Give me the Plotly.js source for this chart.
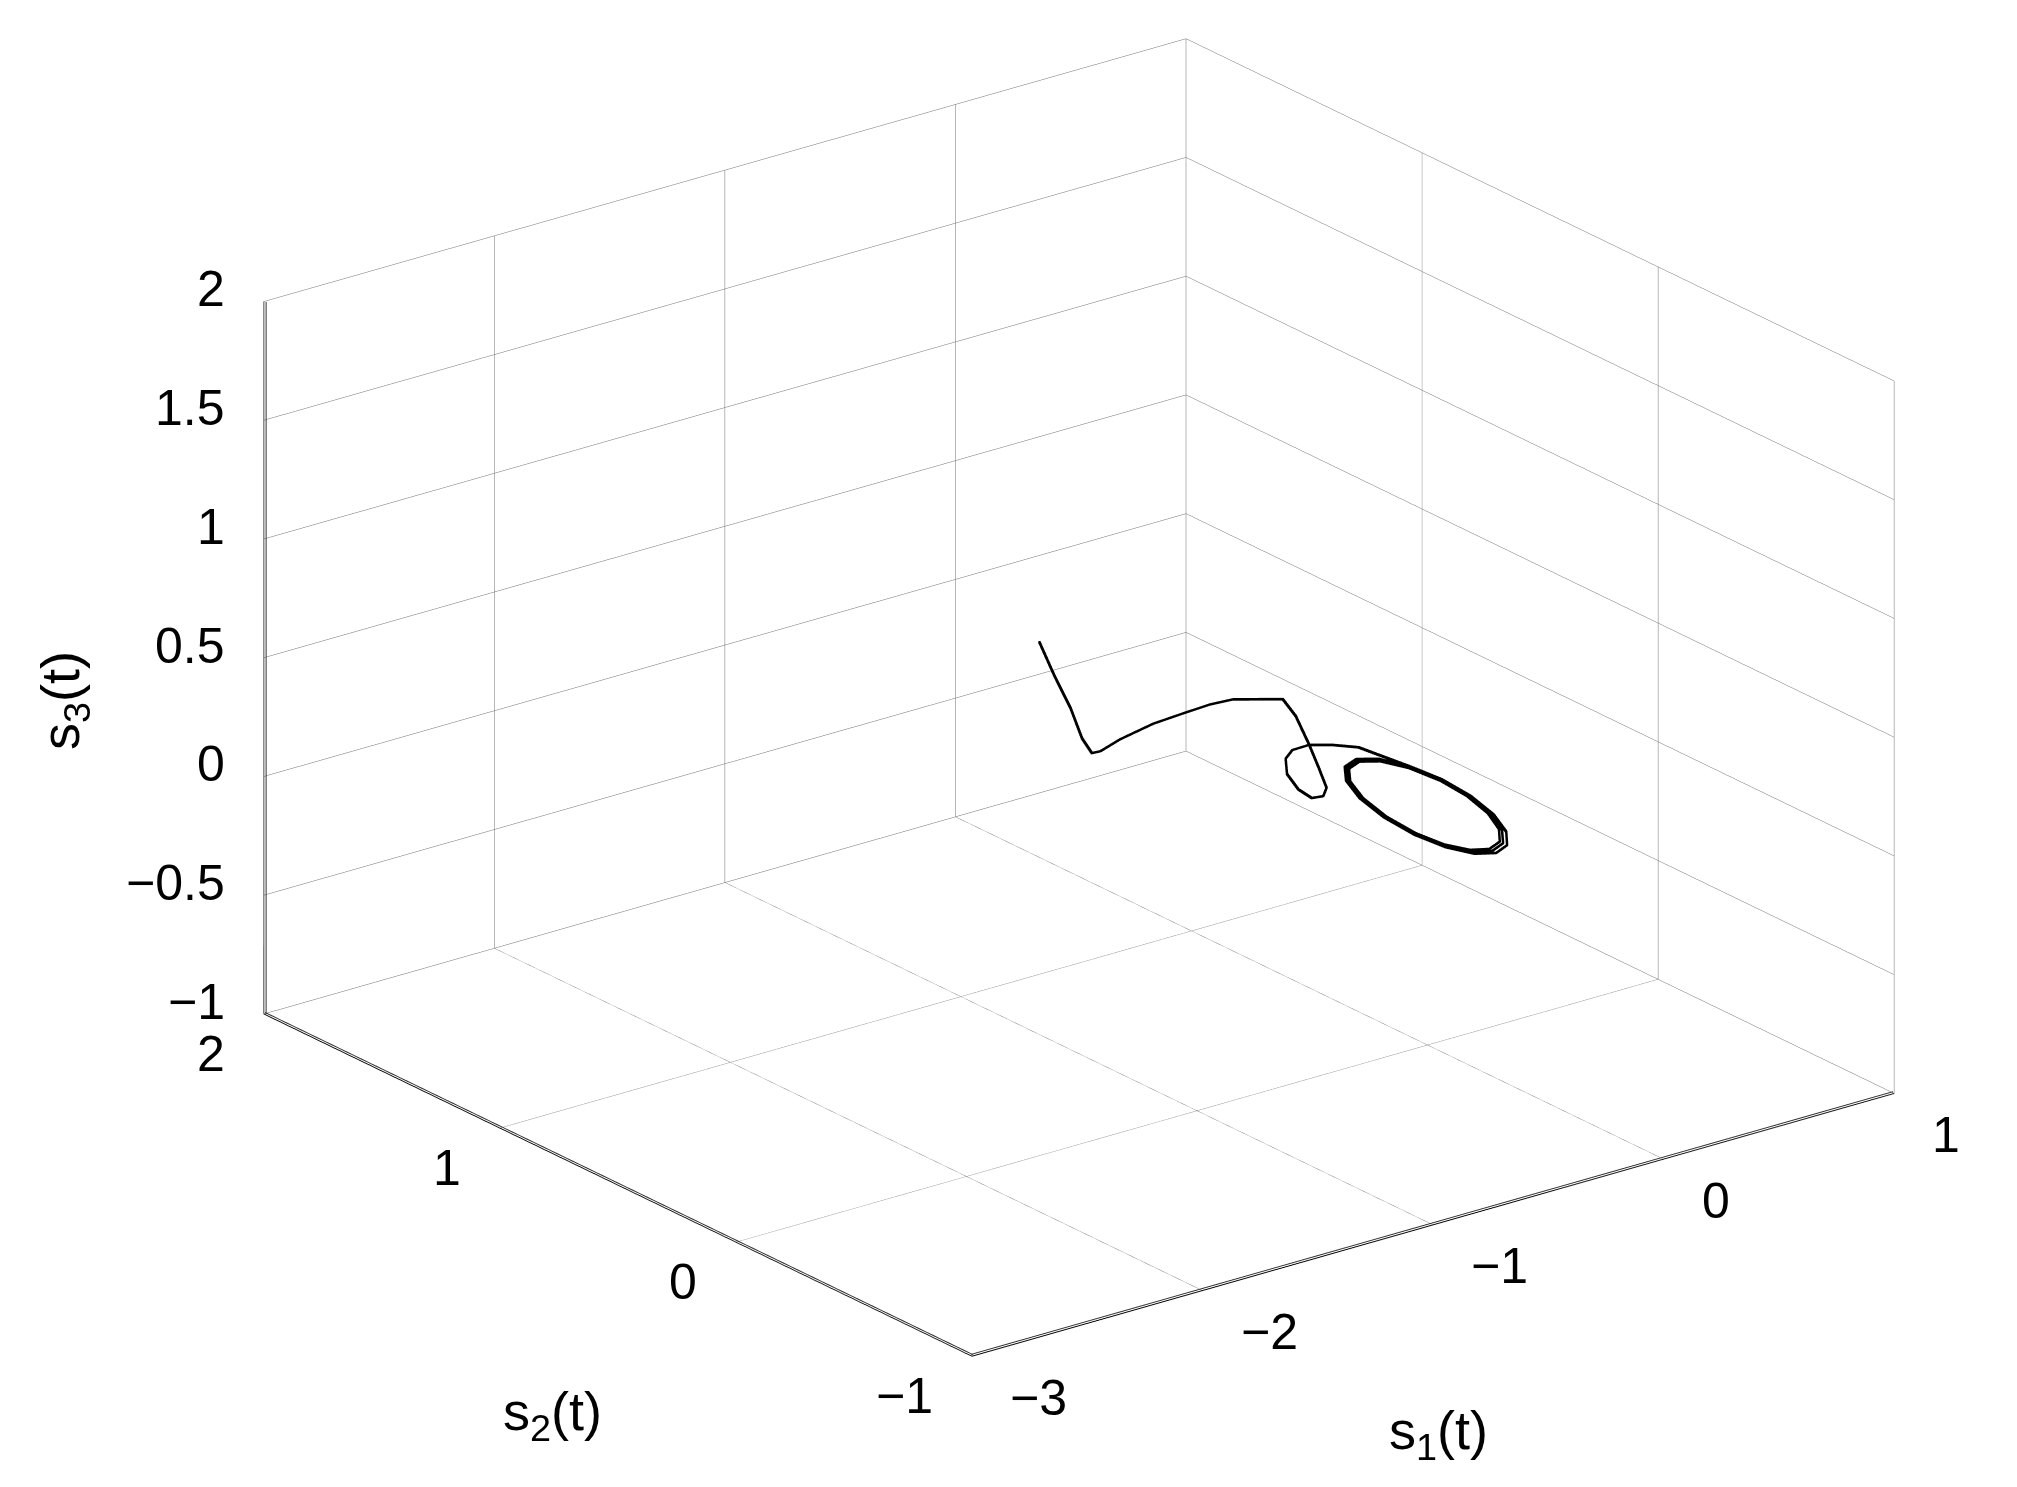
<!DOCTYPE html>
<html>
<head>
<meta charset="utf-8">
<script src="https://cdn.plot.ly/plotly-3.0.1.min.js"></script>
<style>
  html, body { margin: 0; padding: 0; background: #fff; }
  #plot { width: 2017px; height: 1487px; }
</style>
</head>
<body>
<div id="plot"></div>
<script>
// transient part of the trajectory
var s1Path = [-0.798, -0.812, -0.821, -0.825, -0.774, -0.727, -0.592, -0.400, -0.247, -0.111, -0.005, 0.145, 0.098, -0.008,
              -0.102, -0.182, -0.225, -0.267, -0.255, -0.199, -0.116, -0.049, 0.025, 0.088, 0.147, 0.157];
var s2Path = [0.868, 0.791, 0.712, 0.660, 0.668, 0.678, 0.726, 0.773, 0.796, 0.816, 0.821, 0.757, 0.656, 0.498,
              0.364, 0.252, 0.224, 0.232, 0.300, 0.403, 0.490, 0.527, 0.529, 0.493, 0.438, 0.378];
var s3Path = [0.50, 0.40, 0.30, 0.20, 0.12, 0.11, 0.10, 0.09, 0.08, 0.07, 0.06, 0.05, 0.04, 0.03,
              0.02, 0.01, 0, 0, 0, 0, 0, 0, 0, 0, 0, 0];

// the limit cycle, three passes
var s1Cycle = [0.178, 0.193, 0.178, 0.136, 0.074, 0, -0.074, -0.136, -0.178, -0.193, -0.178, -0.136, -0.074, 0, 0.074, 0.136,
               0.174, 0.188, 0.174, 0.133, 0.072, 0, -0.072, -0.133, -0.174, -0.188, -0.174, -0.133, -0.072, 0, 0.072, 0.133,
               0.169, 0.183, 0.169, 0.129, 0.070, 0, -0.070, -0.129, -0.169, -0.183, -0.169, -0.129, -0.070, 0, 0.070, 0.129, 0.169];
var s2Cycle = [0.257, 0.132, -0.006, -0.145, -0.259, -0.335, -0.361, -0.331, -0.250, -0.132, 0.013, 0.157, 0.275, 0.353, 0.377, 0.343,
               0.251, 0.129, -0.003, -0.134, -0.243, -0.318, -0.343, -0.316, -0.241, -0.129, 0.013, 0.153, 0.268, 0.344, 0.368, 0.334,
               0.244, 0.125, 0.000, -0.127, -0.232, -0.304, -0.328, -0.303, -0.232, -0.125, 0.012, 0.149, 0.261, 0.335, 0.358, 0.326, 0.244];
var s3Cycle = [0, 0, 0, 0, 0, 0, 0, 0, 0, 0, 0, 0, 0, 0, 0, 0,
               0, 0, 0, 0, 0, 0, 0, 0, 0, 0, 0, 0, 0, 0, 0, 0,
               0, 0, 0, 0, 0, 0, 0, 0, 0, 0, 0, 0, 0, 0, 0, 0, 0];

var s1Ticks = [-3, -2, -1, 0, 1];
var s2Ticks = [-1, 0, 1, 2];
var s3Ticks = [-1, -0.5, 0, 0.5, 1, 1.5, 2];

var x1 = s1Ticks[0], x2 = s1Ticks[s1Ticks.length - 1];
var y1 = s2Ticks[0], y2 = s2Ticks[s2Ticks.length - 1];
var z1 = s3Ticks[0], z2 = s3Ticks[s3Ticks.length - 1];

var s1All = s1Path.concat(s1Cycle);
var s2All = s2Path.concat(s2Cycle);
var s3All = s3Path.concat(s3Cycle);

// webgl lines come out 1px wide here, so the curve is stroked a few times
// with a sub-pixel nudge to get matlab's heavier line
function stroke(dx, dz) {
    return {
        type: "scatter3d",
        mode: "lines",
        x: s1All.map(function (v) { return v + dx; }),
        y: s2All,
        z: s3All.map(function (v) { return v + dz; }),
        line: {color: "#000000", width: 3},
        hoverinfo: "none"
    };
}
var data = [stroke(0, 0), stroke(0, 0.004), stroke(0.004, 0), stroke(0.004, 0.004)];

// second pass over the three axis lines, nudged just inside the box
var e = 0.005;
data.push({
    type: "scatter3d",
    mode: "lines",
    x: [x1 + e, x1 + e, null, x1 + e, x1 + e, null, x1, x2],
    y: [y2 - e, y2 - e, null, y2, y1, null, y1 + e, y1 + e],
    z: [z2, z1, null, z1 + e, z1 + e, null, z1 + e, z1 + e],
    connectgaps: false,
    line: {color: "#333333", width: 2},
    hoverinfo: "none"
});

function fmt(v) {
    return v < 0 ? "\u2212" + Math.abs(v) : String(v);
}

var labelFont = {family: "Liberation Sans, Arial, sans-serif", size: 50, color: "#000"};
var titleFont = {family: "Liberation Sans, Arial, sans-serif", size: 54, color: "#000"};

// tick labels placed at the ticks through the scene's own projection
var tickLabels = [];
s3Ticks.forEach(function (t) {
    tickLabels.push({x: x1, y: y2, z: t, text: fmt(t), showarrow: false, font: labelFont,
                     xanchor: "right", yanchor: "middle", xshift: -37, yshift: 12});
});
s2Ticks.forEach(function (t) {
    tickLabels.push({x: x1, y: t, z: z1, text: fmt(t), showarrow: false, font: labelFont,
                     xanchor: "right", yanchor: "middle", xshift: -37, yshift: -40});
});
s1Ticks.forEach(function (t) {
    tickLabels.push({x: t, y: y1, z: z1, text: fmt(t), showarrow: false, font: labelFont,
                     xanchor: "left", yanchor: "middle", xshift: 36, yshift: -42});
});

function axis(ticks) {
    return {
        range: [ticks[0], ticks[ticks.length - 1]],
        tickvals: ticks,
        showticklabels: false,
        title: {text: ""},
        showgrid: true,
        gridcolor: "#707070",
        gridwidth: 1,
        zeroline: false,
        showline: true,
        linecolor: "#000",
        linewidth: 2,
        ticks: "",
        showbackground: false,
        showspikes: false
    };
}

var layout = {
    width: 2017,
    height: 1487,
    margin: {l: 0, r: 0, t: 0, b: 0},
    paper_bgcolor: "#fff",
    showlegend: false,
    scene: {
        domain: {x: [0.07, 1.0], y: [0.0622, 1.0]},
        xaxis: axis(s1Ticks),
        yaxis: axis(s2Ticks),
        zaxis: axis(s3Ticks),
        aspectmode: "manual",
        aspectratio: {x: 1.667, y: 1.667, z: 1.1},
        camera: {
            projection: {type: "orthographic"},
            eye: {x: -0.678, y: -0.883, z: 0.445},
            up: {x: 0, y: 0, z: 1},
            center: {x: 0, y: 0, z: 0}
        },
        annotations: tickLabels
    },
    annotations: [
        {text: "s<sub>1</sub>(t)", xref: "paper", yref: "paper", x: 0.713, y: 0.0356,
         xanchor: "center", yanchor: "middle", showarrow: false, font: titleFont},
        {text: "s<sub>2</sub>(t)", xref: "paper", yref: "paper", x: 0.274, y: 0.0484,
         xanchor: "center", yanchor: "middle", showarrow: false, font: titleFont},
        {text: "s<sub>3</sub>(t)", xref: "paper", yref: "paper", x: 0.032, y: 0.529,
         xanchor: "center", yanchor: "middle", showarrow: false, textangle: -90, font: titleFont}
    ]
};

Plotly.newPlot("plot", data, layout, {displayModeBar: false});
</script>
</body>
</html>
